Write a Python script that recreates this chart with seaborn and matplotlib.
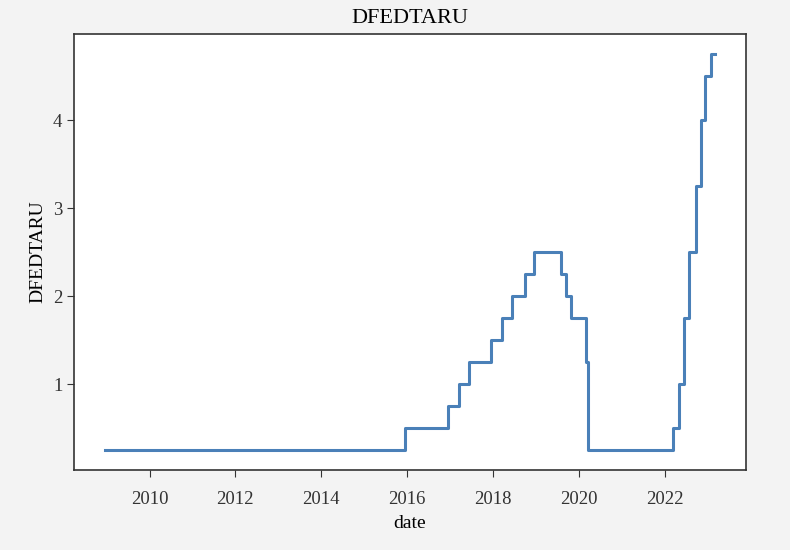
import pandas as pd
import matplotlib.pyplot as plt
import matplotlib.dates as mdates
import seaborn as sns

# Fed funds target range upper bound - change dates and new level
change_dates = [
    "2008-12-16", "2015-12-17", "2016-12-15", "2017-03-16", "2017-06-15",
    "2017-12-14", "2018-03-22", "2018-06-14", "2018-09-27", "2018-12-20",
    "2019-08-01", "2019-09-19", "2019-10-31", "2020-03-04", "2020-03-16",
    "2022-03-17", "2022-05-05", "2022-06-16", "2022-07-28", "2022-09-22",
    "2022-11-03", "2022-12-15", "2023-02-02", "2023-03-08",
]
rate_levels = [
    0.25, 0.50, 0.75, 1.00, 1.25,
    1.50, 1.75, 2.00, 2.25, 2.50,
    2.25, 2.00, 1.75, 1.25, 0.25,
    0.50, 1.00, 1.75, 2.50, 3.25,
    4.00, 4.50, 4.75, 4.75,
]

df = pd.DataFrame({"date": pd.to_datetime(change_dates), "DFEDTARU": rate_levels})

plt.rcParams["font.family"] = ["Liberation Serif", "DejaVu Serif"]

fig, ax = plt.subplots(figsize=(7.9, 5.5), dpi=100)
fig.patch.set_facecolor("#f3f3f3")
ax.set_facecolor("white")

sns.lineplot(data=df, x="date", y="DFEDTARU", ax=ax, color="#4a80b8",
             linewidth=2.2, drawstyle="steps-post")

ax.set_title("DFEDTARU", fontsize=16, pad=8)
ax.set_xlabel("date", fontsize=14, labelpad=5)
ax.set_ylabel("DFEDTARU", fontsize=14, labelpad=5)
ax.xaxis.set_major_locator(mdates.YearLocator(2))
ax.xaxis.set_major_formatter(mdates.DateFormatter("%Y"))
ax.set_yticks([1, 2, 3, 4])
for s in ax.spines.values():
    s.set_color("#333333")
    s.set_linewidth(1.2)
ax.tick_params(colors="#333333", labelsize=13.5, length=5)
ax.tick_params(axis="x", pad=10)

plt.subplots_adjust(left=0.094, right=0.944, bottom=0.145, top=0.938)
plt.savefig("out.png", dpi=100, facecolor=fig.get_facecolor())
